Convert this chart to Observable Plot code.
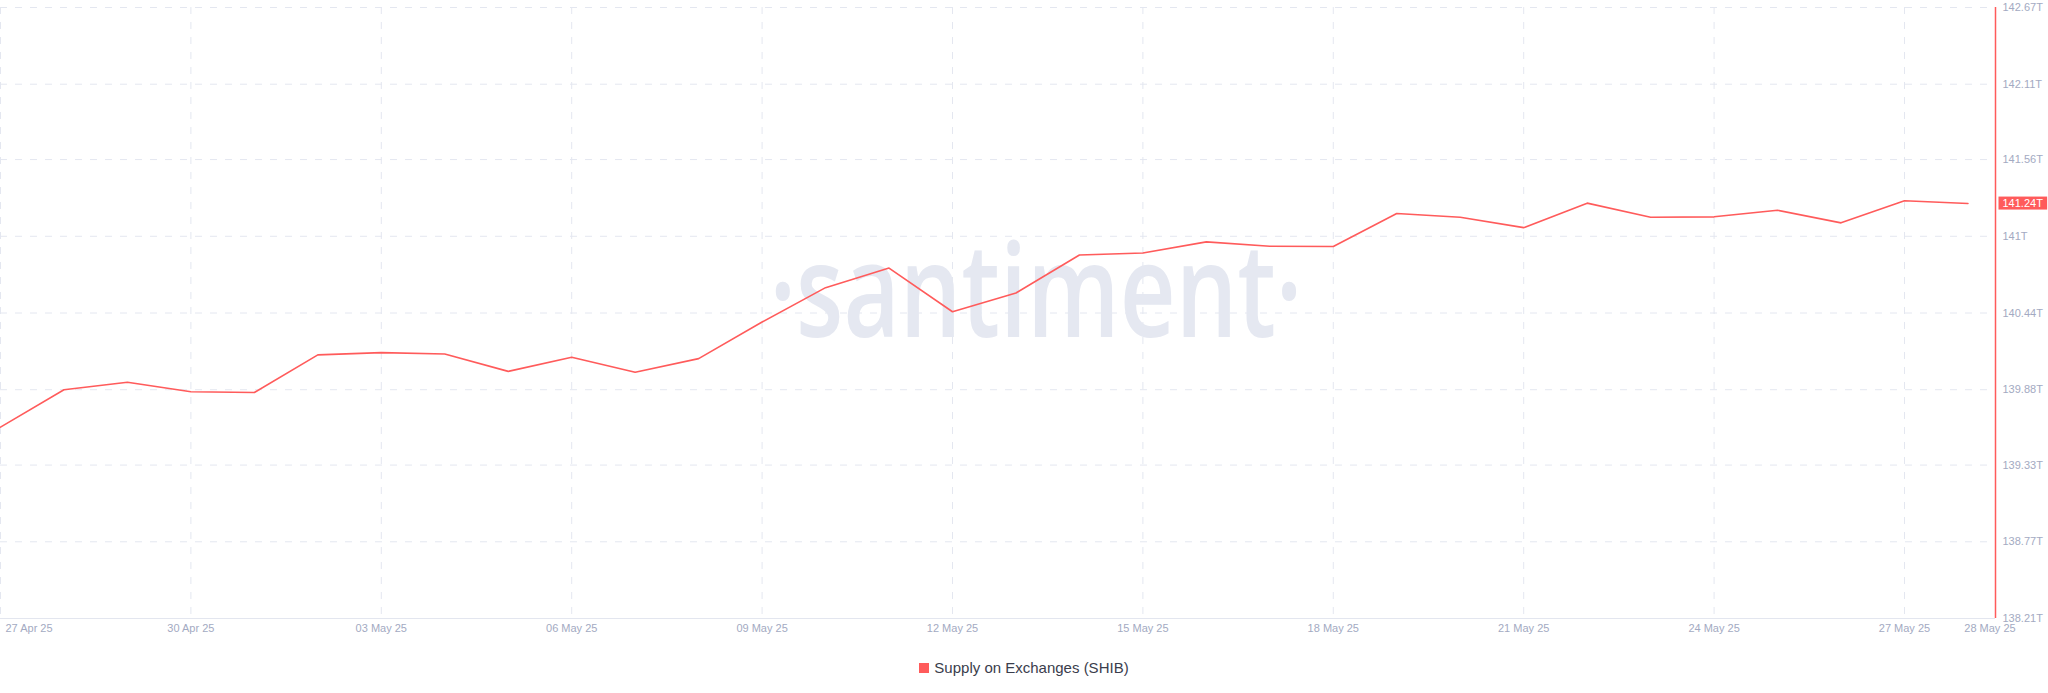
<!DOCTYPE html>
<html>
<head>
<meta charset="utf-8">
<script src="https://cdn.jsdelivr.net/npm/d3@7"></script>
<script src="https://cdn.jsdelivr.net/npm/@observablehq/plot@0.6"></script>
<style>
  html, body { margin: 0; padding: 0; background: #ffffff; }
  #chart svg { display: block; }
  #legend {
    margin-top: 18px; height: 20px; line-height: 20px;
    display: flex; justify-content: center; align-items: center;
    font-family: "Liberation Sans", Arial, sans-serif; font-size: 15px; color: #3a3d4c;
  }
  #legend .sw { width: 10px; height: 10px; background: #ff5b5b; margin-right: 5px; display: inline-block; }
</style>
</head>
<body>
<div id="chart"></div>
<div id="legend"></div>
<script>
// ---- data ----
const dates = [
  "2025-04-27","2025-04-28","2025-04-29","2025-04-30",
  "2025-05-01","2025-05-02","2025-05-03","2025-05-04","2025-05-05","2025-05-06","2025-05-07",
  "2025-05-08","2025-05-09","2025-05-10","2025-05-11","2025-05-12","2025-05-13","2025-05-14",
  "2025-05-15","2025-05-16","2025-05-17","2025-05-18","2025-05-19","2025-05-20","2025-05-21",
  "2025-05-22","2025-05-23","2025-05-24","2025-05-25","2025-05-26","2025-05-27","2025-05-28"
];
const supplyT = [
  139.607, 139.880, 139.934, 139.865,
  139.860, 140.134, 140.151, 140.141, 140.014, 140.117, 140.007,
  140.107, 140.374, 140.625, 140.768, 140.449, 140.586, 140.863,
  140.878, 140.959, 140.927, 140.925, 141.166, 141.139, 141.063,
  141.242, 141.139, 141.142, 141.190, 141.098, 141.259, 141.239
];
const xTickDates = ["2025-04-27","2025-04-30","2025-05-03","2025-05-06","2025-05-09","2025-05-12","2025-05-15","2025-05-18","2025-05-21","2025-05-24","2025-05-27"];
const xLastTick = "2025-05-28";
const yTicks = [138.21, 138.77, 139.33, 139.88, 140.44, 141, 141.56, 142.11, 142.67];
const seriesName = "Supply on Exchanges (SHIB)";
const watermark = "·santiment·";

// ---- build ----
const parse = d3.utcParse("%Y-%m-%d");
const data = dates.map((d, i) => ({date: parse(d), value: supplyT[i]}));
const xStart = parse(dates[0]);
const xEnd = new Date(+xStart + 31.434 * 864e5);
const fmtDate = d3.utcFormat("%d %b %y");
const fmtY = v => d3.format("~f")(+(+v).toFixed(2)) + "T";
const RED = "#ff5b5b";
const GRID = "#e4e7f0";
const LABEL = "#a3aac2";
const FONT = "'Liberation Sans', Arial, sans-serif";
const last = data[data.length - 1];
const badge = [{at: xEnd, value: last.value, label: fmtY(last.value)}];

const chart = Plot.plot({
  width: 2048,
  height: 640,
  marginTop: 7,
  marginBottom: 22,
  marginLeft: 0,
  marginRight: 53,
  style: {fontFamily: FONT, background: "#ffffff"},
  x: {type: "utc", domain: [xStart, xEnd]},
  y: {domain: [yTicks[0], yTicks[yTicks.length - 1]]},
  marks: [
    Plot.gridY(yTicks, {stroke: GRID, strokeOpacity: 1, strokeDasharray: "7,8"}),
    Plot.gridX(xTickDates.map(parse), {stroke: GRID, strokeOpacity: 1, strokeDasharray: "7,8"}),
    Plot.text([watermark], {frameAnchor: "middle", dx: 38, dy: 24, lineAnchor: "bottom",
      fontSize: 130, fontWeight: 600, fill: "#e5e8f1", fontFamily: "'Open Sans', sans-serif"}),
    Plot.ruleY([yTicks[0]], {stroke: "#e3e6ef", strokeWidth: 1.2}),
    Plot.ruleX([xEnd], {stroke: RED, strokeWidth: 1.5}),
    Plot.line(data, {x: "date", y: "value", stroke: RED, strokeWidth: 1.6}),
    Plot.axisY(yTicks, {anchor: "right", tickSize: 0, tickPadding: 7, tickFormat: fmtY,
      fontSize: 11, color: LABEL, label: null}),
    Plot.axisX(xTickDates.slice(1).map(parse), {tickSize: 0, tickPadding: 6, tickFormat: fmtDate,
      fontSize: 11, color: LABEL, label: null}),
    Plot.axisX([parse(xTickDates[0])], {tickSize: 0, tickPadding: 6, tickFormat: fmtDate,
      textAnchor: "start", dx: 5, fontSize: 11, color: LABEL, label: null}),
    Plot.axisX([parse(xLastTick)], {tickSize: 0, tickPadding: 6, tickFormat: fmtDate,
      dx: 22, fontSize: 11, color: LABEL, label: null}),
    Plot.text(badge, {x: "at", y: "value", text: "label", dx: 7,
      textAnchor: "start", fill: "#ffffff", fontSize: 11})
  ]
});

document.getElementById("chart").appendChild(chart);
const svg = chart.tagName.toLowerCase() === "svg" ? chart : chart.querySelector("svg");

// condense the watermark like the original's narrow lettering
d3.select(svg).selectAll("text")
  .filter(function() { return this.textContent === watermark; })
  .attr("textLength", 533).attr("lengthAdjust", "spacingAndGlyphs");

// red badge behind last value (same transform as its text)
d3.select(svg).selectAll("text")
  .filter(function() { return this.textContent === badge[0].label && this.getAttribute("fill") !== LABEL; })
  .each(function() {
    const b = this.getBBox();
    const r = d3.select(this.parentNode).insert("rect", () => this)
      .attr("x", b.x - 4).attr("y", b.y + b.height / 2 - 6.5)
      .attr("width", b.width + 8).attr("height", 13)
      .attr("fill", RED);
    const t = this.getAttribute("transform");
    if (t) r.attr("transform", t);
  });

// legend
const lg = document.getElementById("legend");
lg.innerHTML = `<span class="sw"></span><span>${seriesName}</span>`;
</script>
</body>
</html>
